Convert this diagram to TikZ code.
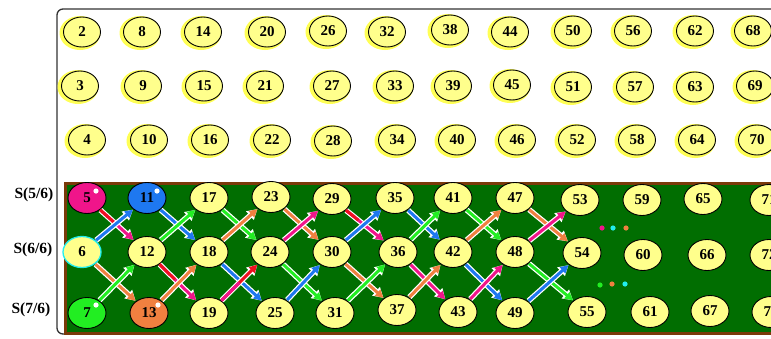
\documentclass[tikz,border=0pt]{standalone}
\usepackage{fontspec}
\setmainfont{Liberation Serif}
\usetikzlibrary{shapes.geometric,arrows.meta,calc}

\definecolor{nodey}{HTML}{FFFF8C}
\definecolor{haloy}{HTML}{FFFF55}
\definecolor{bggreen}{HTML}{016E01}
\definecolor{brownb}{HTML}{7A3A0A}
\definecolor{cmag}{HTML}{F0158A}
\definecolor{cred}{HTML}{F01020}
\definecolor{cblue}{HTML}{1E78F0}
\definecolor{cgreen}{HTML}{22EE22}
\definecolor{corange}{HTML}{F08040}
\definecolor{ccyan}{HTML}{22EEEE}

\begin{document}
\begin{tikzpicture}[x=1pt,y=-1pt,
  nd/.style={ellipse, draw=black, line width=0.9pt, fill=nodey,
    minimum width=37pt, minimum height=30pt, inner sep=0pt,
    font=\bfseries\fontsize{15}{15}\selectfont},
  bn/.style={nd, minimum width=38pt, minimum height=31pt},
  lab/.style={font=\bfseries\fontsize{15.5}{15.5}\selectfont, inner sep=0pt},
  arr/.style={-{Triangle[length=8pt,width=8pt]}, line width=3pt, draw=#1,
    shorten >=0.5pt, shorten <=0.5pt,
    preaction={draw=white, line width=5.5pt, -{Triangle[length=10pt,width=11pt]}}},
  seg/.style={line width=3pt, draw=#1},
  hl/.style={fill=white},
  dotc/.style={fill=#1}
]
\useasboundingbox (0,0) rectangle (771,338);
\clip (0,0) rectangle (771,338);
\fill[white] (0,0) rectangle (771,338);

% outer frame
\draw[line width=1.3pt, draw=black!80, rounded corners=6pt] (57,9) rectangle (800,334);

% top grid
\foreach \n/\x/\y in {2/82/32, 8/142/32, 14/203/32, 20/267/32, 26/328/31, 32/387/32, 38/450/30, 44/510/32, 50/573/31, 56/633/31, 62/695/31, 68/753/31,
  3/80/86, 9/143/86, 15/204/86, 21/265/86, 27/332/86, 33/395/86, 39/453/86, 45/512/85, 51/573/87, 57/635/87, 63/695/87, 69/755/86,
  4/87/140, 10/149/140, 16/210/140, 22/272/140, 28/333/141, 34/397/140, 40/457/140, 46/517/140, 52/577/140, 58/637/140, 64/697/140, 70/757/140}
{
  \fill[haloy] (\x-2,\y+1) ellipse [x radius=20.5pt, y radius=17pt];
  \node[nd] (n\n) at (\x,\y) {\n};
}

% green board
\draw[brownb, line width=3pt, fill=bggreen] (65,183) rectangle (800,333);

% row labels
\node[lab] (s5) at (34,195) {S(5/6)};
\node[lab] (s6) at (33,250) {S(6/6)};
\node[lab] (s7) at (31,310) {S(7/6)};

% bottom grid
\foreach \n/\x/\y in {17/209/198, 23/271/197, 29/332/199, 35/395/198, 41/453/198, 47/515/198, 53/580/200, 59/642/200, 65/703/199, 71/769/200,
  12/147/252, 18/209/252, 24/270/252, 30/332/252, 36/398/252, 42/453/252, 48/515/252, 54/582/253, 60/643/255, 66/707/255, 72/769/255,
  19/209/313, 25/275/313, 31/335/313, 37/397/310, 43/458/312, 49/515/313, 55/587/312, 61/650/312, 67/710/311, 73/771/312}
{
  \node[bn] (n\n) at (\x,\y) {\n};
}
\node[bn, fill=cmag] (n5) at (87,198) {5};
\node[bn, fill=cblue] (n11) at (147,198) {11};
\node[bn, draw=ccyan, line width=1.3pt] (n6) at (82,252) {6};
\node[bn, fill=cgreen] (n7) at (87,313) {7};
\node[bn, fill=corange] (n13) at (149,313) {13};
\fill[hl] (96,191) circle (2.6pt);
\fill[hl] (157,191) circle (2.6pt);
\fill[hl] (96,305) circle (2.6pt);
\fill[hl] (158,305) circle (2.6pt);

% arrows column 0->1
\draw[arr=cmag] (n5) -- (n12);
\draw[seg=cred] (n5) -- ($(n5)!0.45!(n12)$);
\draw[arr=cblue] (n6) -- (n11);
\draw[arr=corange] (n6) -- (n13);
\draw[arr=cgreen] (n7) -- (n12);
% 1->2
\draw[arr=cblue] (n11) -- (n18);
\draw[arr=cgreen] (n12) -- (n17);
\draw[arr=cmag] (n12) -- (n19);
\draw[seg=cred] (n12) -- ($(n12)!0.45!(n19)$);
\draw[arr=corange] (n13) -- (n18);
% 2->3
\draw[arr=cgreen] (n17) -- (n24);
\draw[arr=corange] (n18) -- (n23);
\draw[arr=cblue] (n18) -- (n25);
\draw[arr=cred] (n19) -- (n24);
\draw[seg=cmag] (n19) -- ($(n19)!0.5!(n24)$);
% 3->4
\draw[arr=corange] (n23) -- (n30);
\draw[arr=cmag] (n24) -- (n29);
\draw[arr=cgreen] (n24) -- (n31);
\draw[arr=cblue] (n25) -- (n30);
% 4->5
\draw[arr=cmag] (n29) -- (n36);
\draw[seg=cred] (n29) -- ($(n29)!0.4!(n36)$);
\draw[arr=cblue] (n30) -- (n35);
\draw[arr=corange] (n30) -- (n37);
\draw[arr=cgreen] (n31) -- (n36);
% 5->6
\draw[arr=cblue] (n35) -- (n42);
\draw[arr=cgreen] (n36) -- (n41);
\draw[arr=cmag] (n36) -- (n43);
\draw[arr=corange] (n37) -- (n42);
% 6->7
\draw[arr=cgreen] (n41) -- (n48);
\draw[arr=corange] (n42) -- (n47);
\draw[arr=cblue] (n42) -- (n49);
\draw[arr=cmag] (n43) -- (n48);
% 7->8
\draw[arr=corange] (n47) -- (n54);
\draw[arr=cmag] (n48) -- (n53);
\draw[arr=cgreen] (n48) -- (n55);
\draw[arr=cblue] (n49) -- (n54);

% ellipsis dots
\fill[dotc=cmag] (602,228) circle (2.6pt);
\fill[dotc=ccyan] (613,228) circle (2.6pt);
\fill[dotc=corange] (626,228) circle (2.6pt);
\fill[dotc=cgreen] (600,285) circle (2.6pt);
\fill[dotc=corange] (612,284) circle (2.6pt);
\fill[dotc=ccyan] (625,284) circle (2.6pt);
\end{tikzpicture}
\end{document}
